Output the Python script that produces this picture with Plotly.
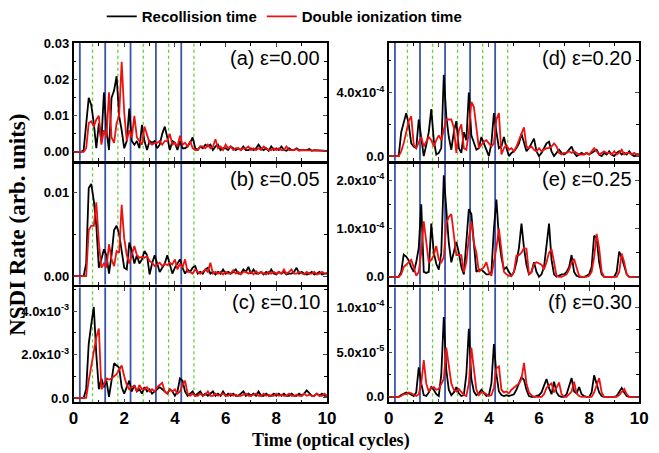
import numpy as np
import plotly.graph_objects as go

# Time grid (optical cycles)
time = np.round(np.arange(0, 101) * 0.1, 1)

# Panel (a) eps=0.00, units 1e-3
rec_a = [0,0,0,0,0.5,8,15,13,8,1,8,3,16.5,6,0.5,15,17,21,10,6,1,3,12,3,2,3,1,7.5,3,0.5,
         3,2.5,3,1,2,5,7,4,0.5,3,2.5,0.5,3,1,1,1.5,2.5,4,1,0.5,1.5,1,2,1.5,2,0.5,1.5,2,0.5,1,
         1,0.5,1.5,1,0.5,1,0.5,1.5,0.5,0.5,1,0.5,1,2,1,0.5,1,0.3,1.5,0.5,1,0.5,1.5,0.5,0.3,1,
         0.5,0.5,1,0.5,0.5,0.3,0.5,0.8,0.3,0.5,0.5,0.3,0.5,0.3,0.3]
dbl_a = [0,0,0,0,0,1,8,8.5,7,9,10,2,6,4,16.5,4,2.5,8,10,25,11,3,6,4,10,4,3,2,7,5,
         2.5,2,2.5,2.5,3,2,3,3,5,2,2.5,1.5,4.5,2,2.5,1.5,3,1,0.5,0.5,1.5,1.5,1,2,1,1.5,3.5,1,1.5,0.5,
         2,1,1.5,0.5,1,1,0.5,1,1,1.5,0.5,1,0.5,1,0.5,1.5,1,0.5,0.5,1,0.5,1,0.5,0.5,1.5,0.5,0.5,0.5,
         0.8,0.3,0.5,0.5,0.3,0.5,0.5,0.5,0.3,0.3,0.5,0.3,0.2]

# Panel (b) eps=0.05, units 1e-3
rec_b = [0,0,0,0,0,1.5,10.5,11,9,6,1,2,3.2,2.5,0.3,2.5,5.5,6,5,3,1,0.8,4,3,1.5,2.5,1.5,2,3,2.5,
         0.2,1.5,2.5,1.5,0.5,1,1.5,2.5,1.5,0.3,1,1.5,2,1,0.3,0.8,0.5,1,1.2,0.3,0.5,0.3,0.8,1,0.3,0.5,0.2,0.5,0.3,0.8,
         0.3,0.5,0.3,0.5,0.8,0.3,0.3,0.8,0.5,1.1,0.3,0.8,0.3,0.3,0.5,0.2,0.5,0.3,0.8,0.3,0.2,0.5,0.3,0.5,0.2,0.3,0.3,0.5,
         1,0.3,0.5,0.3,0.2,0.3,0.5,0.2,0.3,0.5,0.2,0.3,0.3]
dbl_b = [0,0,0,0,0,0,5.5,6,6,8.8,4,1,1.5,1,3.8,2,1.2,3,2.8,8.5,4.5,2.5,1.5,2.5,3.6,2.5,2.2,2.3,2.2,2.4,
         1.8,1.6,1.2,1.4,1.6,1.2,1.5,1.3,1.6,1.4,2,0.8,1.5,1,2,0.5,0.5,0.3,0.8,0.5,0.3,0.5,0.8,0.5,1.6,0.3,0.5,0.3,0.5,0.2,
         0.5,0.3,0.3,0.7,0.3,0.5,0.2,0.5,0.5,0.3,0.5,0.2,0.6,0.3,0.5,0.3,0.2,0.5,0.3,0.5,0.3,0.5,0.3,0.8,0.3,0.5,0.8,0.3,
         0.3,0.5,0.3,0.2,0.5,0.3,0.3,0.5,0.2,0.3,0.5,0.3,0.4]

# Panel (c) eps=0.10, units 1e-3
rec_c = [0,0,0,0,0,0.4,2.5,3.4,4.2,2,0.4,0.9,0.5,0.8,0.05,0.8,1.6,1.5,1.4,0.5,0.2,0.5,0.8,0.3,0.6,0.3,0.4,0.2,0.5,0.3,
         0.4,0.2,0.3,0.4,0.5,0.4,0.3,0.2,0.4,0.3,0.1,0.3,0.9,0.8,0.3,0.1,0.2,0.3,0.1,0.2,0.3,0.1,0.2,0.1,0.2,0.3,0.1,0.2,0.1,0.3,
         0.1,0.2,0.1,0.2,0.1,0.1,0.2,0.3,0.1,0.2,0.1,0.2,0.1,0.3,0.1,0.1,0.2,0.1,0.1,0.2,0.1,0.2,0.1,0.2,0.1,0.1,0.2,0.1,
         0.1,0.2,0.1,0.2,0.35,0.2,0.1,0.1,0.2,0.1,0.2,0.1,0.1]
dbl_c = [0,0,0,0,0,0,0.8,1.5,2,2.8,3.2,0.4,0.6,0.9,0.85,0.9,1,1.1,1.3,1.5,1,0.6,0.4,0.5,0.55,0.3,0.6,0.4,0.4,0.5,
         0.3,0.4,0.3,0.5,0.6,0.7,0.3,0.2,0.4,0.3,0.4,0.2,0.3,0.6,0.8,0.2,0.1,0.2,0.1,0.1,0.2,0.1,0.15,0.3,0.1,0.1,0.2,0.1,0.15,0.2,
         0.1,0.1,0.2,0.1,0.15,0.1,0.1,0.15,0.2,0.1,0.1,0.15,0.2,0.1,0.1,0.2,0.1,0.15,0.1,0.1,0.2,0.1,0.15,0.1,0.1,0.2,0.1,0.1,
         0.15,0.1,0.1,0.2,0.1,0.15,0.1,0.1,0.2,0.1,0.1,0.2,0.1]

# Panel (d) eps=0.20, units 1e-4
rec_d = [0,0,0,0,0,1.5,2.2,2.7,2,0.8,0.6,0.5,2.3,1,0,0.7,1.5,2.95,1,0.1,0.2,0.5,5.1,2.5,1.2,0.4,1.5,2.2,0.5,0.2,
         1.5,1.0,4.0,1.3,0.8,0.4,0.5,1.2,0.8,0.4,0,0.8,2.7,1.5,0.5,0.6,1.2,0.5,0,0.2,0.3,0.5,0.8,1.4,0.8,0.3,0.5,0.8,1.1,0.3,
         0,0.2,0.5,0.8,0.9,0.3,0,0.2,0.4,0.2,0.1,0.2,0.4,0.6,0.2,0,0.1,0.2,0.1,0.2,0.1,0.2,0.3,0.4,0.1,0,0.2,0.1,
         0.3,0.1,0,0.2,0.3,0.1,0.2,0.1,0.3,0.1,0,0.1,0.1]
dbl_d = [0,0,0,0,0,0.3,0.8,1.5,2.2,2.5,0.7,0.5,0.8,1.2,0.6,0.9,1.2,1.0,0.6,1,1.3,1.0,1.6,2.3,2.3,2.3,1.8,0.2,1.6,2.0,
         0.5,0.4,1.5,3.4,3.1,1.8,0.5,0.7,0.9,1.0,0.8,0.6,0.8,2.3,2.7,0.1,0.5,0.7,0.4,0.5,0.3,0.6,1.0,1.4,1.8,0.6,0.5,0.6,0.4,0.3,
         0.5,0.3,0.4,0.5,0.5,0.6,0.8,0.6,0.2,0.1,0.2,0.2,0.3,0.2,0.3,0.2,0.1,0.1,0.1,0.2,0.1,0.3,0.5,0.3,0.1,0.2,0.3,0.2,
         0.2,0.1,0.3,0.1,0.2,0.4,0.1,0.2,0.2,0.1,0.2,0.1,0.1]

# Panel (e) eps=0.25, units 1e-4
rec_e = [0,0,0,0,0,0.1,0.46,0.42,0.34,0.2,0.1,0.3,0.6,1.5,0.1,0.08,0.1,1.1,0.5,0.27,0.15,0.5,2.1,1.4,0.7,0.3,0.5,0.72,0.5,0.2,
         0.05,0.8,1.4,1.3,0.6,0.1,0.15,0.15,0.1,0.05,0.05,0.1,1.0,1.6,0.8,0.4,0.15,0.2,0.1,0.02,0.1,0.3,0.6,1.1,0.6,0.25,0.05,0.1,0.3,0.1,
         0,0.05,0.2,0.6,1.1,0.35,0.05,0,0.02,0.05,0.05,0.1,0.2,0.45,0.1,0.02,0,0,0,0.02,0.05,0.2,0.85,0.8,0.3,0.05,0,0,
         0,0,0,0.1,0.52,0.4,0.2,0.05,0,0,0,0,0]
dbl_e = [0,0,0,0,0,0.05,0.2,0.25,0.3,0.35,0.2,0.02,0.1,0.5,1.15,0.7,0.3,0.35,0.45,0.64,0.35,0.3,0.4,1.1,1.24,1.3,0.8,0.45,0.45,0.45,
         0.1,0.3,0.8,1.14,0.7,0.5,0.1,0.15,0.2,0.3,0.1,0.02,0.3,0.6,1.0,0.5,0.1,0.05,0.02,0.02,0.1,0.44,0.45,0.5,0.6,0.58,0.05,0.1,0.27,0.3,
         0.28,0.25,0.15,0.3,0.5,0.57,0.3,0.02,0,0,0.02,0.05,0.15,0.3,0.37,0.2,0.02,0,0,0,0.02,0.1,0.4,0.89,0.6,0.1,0,0,
         0,0,0,0,0.1,0.48,0.3,0.05,0,0,0,0,0]

# Panel (f) eps=0.30, units 1e-5
rec_f = [0,0,0,0,0,0.2,0.4,0.5,0.4,0.2,0.1,0.5,3.3,1.5,0.2,0.1,0.5,1.1,0.8,0.3,0.1,2.5,8.9,3.0,0.8,0.2,0.5,1.1,0.4,0.1,
         0.2,2.5,7.6,2.0,0.6,0.2,0.4,0.8,0.4,0.1,0.2,1.5,5.9,2.5,0.6,0.2,0.1,0.2,0.1,0.2,0.3,0.8,1.5,2.2,1.9,0.8,0.1,0,0,0.1,
         0.2,0.5,1.2,2.0,1.0,0.3,1.7,0.5,0.1,0,0,0.3,1.2,2.1,0.6,0.4,1.1,0.3,0.1,0,0,0.5,2.4,1.5,0.5,0.1,0,0,
         0,0,0,0.1,0.6,1.0,0.5,0.1,0,0,0,0,0]
dbl_f = [0,0,0,0,0,0.1,0.3,0.3,0.5,0.4,0.2,0.1,0.3,1.5,4.1,1.5,0.6,1.0,1.1,0.8,0.9,1.5,2.0,5.5,3.5,1.5,0.8,0.6,0.9,0.5,
         0.2,0.1,1.5,5.5,3.0,0.8,0.2,0.5,0.5,0.3,0.1,0.2,1.0,3.2,3.4,0.8,0.5,0.6,0.4,0.8,1.0,1.2,1.5,2.0,3.8,1.5,0.5,0.2,0,0,
         0,0,0.3,1.0,1.3,1.5,0.5,1.0,1.6,0.3,0,0,0.3,0.6,1.7,0.4,0.1,0,0,0,0,0,0.5,1.2,2.1,0.5,0,0,
         0,0,0,0,0.2,0.6,0.9,0.3,0,0,0,0,0]

scales = [1e-3, 1e-3, 1e-3, 1e-4, 1e-4, 1e-5]
rec_series = [rec_a, rec_b, rec_c, rec_d, rec_e, rec_f]
dbl_series = [dbl_a, dbl_b, dbl_c, dbl_d, dbl_e, dbl_f]
panel_labels = ["(a) ε=0.00", "(b) ε=0.05", "(c) ε=0.10", "(d) ε=0.20", "(e) ε=0.25", "(f) ε=0.30"]

# y ranges and ticks
y_ranges = [[-0.0025, 0.0302], [-0.0010, 0.0134], [-0.0002, 0.0051],
            [-0.3e-4, 7.1e-4], [-0.16e-4, 2.34e-4], [-0.06e-4, 1.22e-4]]
y_tickvals = [[0, 0.01, 0.02, 0.03], [0, 0.01], [0, 2e-3, 4e-3],
              [0, 4e-4], [0, 1e-4, 2e-4], [0, 5e-5, 1e-4]]
y_ticktext = [["0.00", "0.01", "0.02", "0.03"], ["0.00", "0.01"],
              ["0.0", "2.0x10<sup>-3</sup>", "4.0x10<sup>-3</sup>"],
              ["0.0", "4.0x10<sup>-4</sup>"],
              ["0.0", "1.0x10<sup>-4</sup>", "2.0x10<sup>-4</sup>"],
              ["0.0", "5.0x10<sup>-5</sup>", "1.0x10<sup>-4</sup>"]]
y_minor = [0.005, 0.005, 1e-3, 2e-4, 0.5e-4, 2.5e-5]

# Reference times
recollision_marks = [0.25, 1.25, 2.25, 3.25, 4.25]
field_zero_marks = [0.75, 1.75, 2.75, 3.75, 4.75]

W, H = 659, 453
col_x = [(70 / W, 329 / W), (392 / W, 648 / W)]
row_y = [(1 - 156 / H, 1 - 35 / H), (1 - 283 / H, 1 - 159 / H), (1 - 404 / H, 1 - 286 / H)]

fig = go.Figure()
shapes = []
annotations = []
for i in range(6):
    col = i // 3
    row = i % 3
    n = i + 1
    xa = "x" if n == 1 else f"x{n}"
    ya = "y" if n == 1 else f"y{n}"
    s = scales[i]
    fig.add_trace(go.Scatter(x=time, y=[v * s for v in rec_series[i]], mode="lines",
                             line=dict(color="black", width=1.8), name="Recollision time",
                             showlegend=(i == 0), xaxis=xa, yaxis=ya))
    fig.add_trace(go.Scatter(x=time, y=[v * s for v in dbl_series[i]], mode="lines",
                             line=dict(color="#ee1111", width=1.8), name="Double ionization time",
                             showlegend=(i == 0), xaxis=xa, yaxis=ya))
    for t in recollision_marks:
        shapes.append(dict(type="line", xref=xa, yref=f"{ya} domain", x0=t, x1=t, y0=0, y1=1,
                           line=dict(color="#3a55a8", width=1.8), layer="below"))
    for t in field_zero_marks:
        shapes.append(dict(type="line", xref=xa, yref=f"{ya} domain", x0=t, x1=t, y0=0, y1=1,
                           line=dict(color="#66cc33", width=1.3, dash="dot"), layer="below"))
    axkey = "xaxis" if n == 1 else f"xaxis{n}"
    aykey = "yaxis" if n == 1 else f"yaxis{n}"
    fig.update_layout(**{
        axkey: dict(domain=list(col_x[col]), anchor=ya, range=[0, 10], showgrid=False, zeroline=False,
                    showline=True, linewidth=1.5, linecolor="black", mirror="ticks",
                    ticks="inside", ticklen=4, tickwidth=1, dtick=2, tick0=0,
                    minor=dict(ticks="inside", ticklen=3, dtick=1, tickcolor="black"),
                    showticklabels=(row == 2),
                    tickfont=dict(family="Liberation Sans", size=17, color="black", weight="bold")),
        aykey: dict(domain=list(row_y[row]), anchor=xa, range=y_ranges[i], showgrid=False, zeroline=False,
                    showline=True, linewidth=1.5, linecolor="black", mirror="ticks",
                    ticks="inside", ticklen=4, tickwidth=1,
                    tickvals=y_tickvals[i], ticktext=y_ticktext[i],
                    minor=dict(ticks="inside", ticklen=3, dtick=y_minor[i], tickcolor="black"),
                    tickfont=dict(family="Liberation Sans", size=13, color="black", weight="bold")),
    })
    annotations.append(dict(text=panel_labels[i], xref=f"{xa} domain", yref=f"{ya} domain",
                            x=0.98, y=0.985, xanchor="right", yanchor="top", showarrow=False,
                            font=dict(family="Liberation Sans", size=20, color="black")))

annotations.append(dict(text="<b>NSDI Rate (arb. units)</b>", xref="paper", yref="paper",
                        x=12 / W, y=1 - 222 / H, textangle=-90, showarrow=False,
                        xanchor="center", yanchor="middle",
                        font=dict(family="Liberation Serif", size=23, color="black")))
annotations.append(dict(text="<b>Time (optical cycles)</b>", xref="paper", yref="paper",
                        x=333 / W, y=1 - 443 / H, showarrow=False, xanchor="center", yanchor="middle",
                        font=dict(family="Liberation Serif", size=18, color="black")))

fig.update_layout(
    width=W, height=H, margin=dict(l=0, r=0, t=0, b=0),
    paper_bgcolor="white", plot_bgcolor="white",
    shapes=shapes, annotations=annotations,
    legend=dict(orientation="h", x=0.15, y=1.02, xanchor="left", yanchor="top",
                font=dict(family="Liberation Sans", size=15, color="black", weight="bold"),
                bgcolor="rgba(0,0,0,0)", tracegroupgap=0, itemwidth=30),
)

fig.write_html("out.html", config={"displayModeBar": False},
               post_script="document.body.style.margin='0px';document.body.style.overflow='hidden';")
